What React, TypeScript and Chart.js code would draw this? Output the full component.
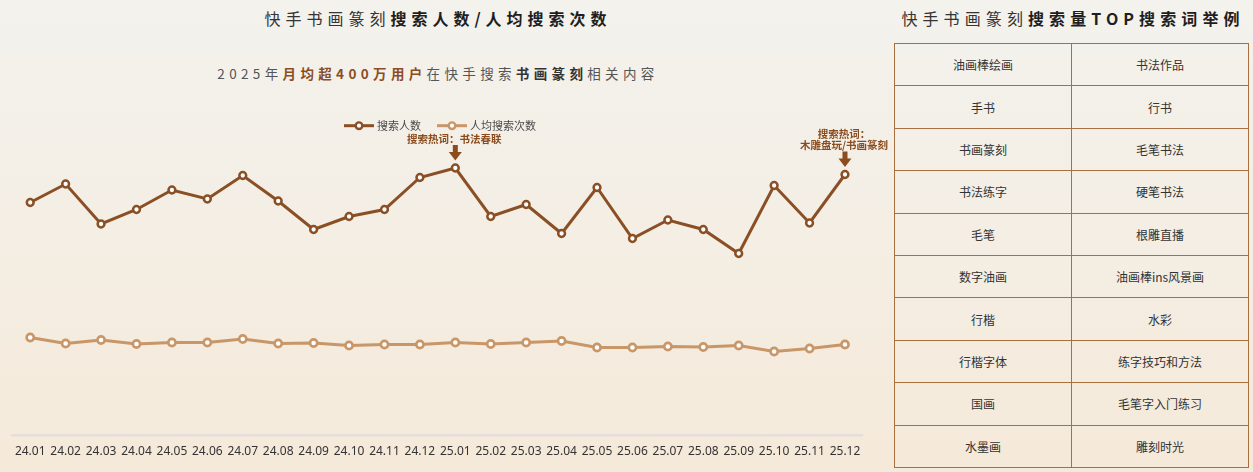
import React, { useEffect, useRef } from "react";
import { Chart, registerables } from "chart.js";

Chart.register(...registerables);

const months = [
  "24.01", "24.02", "24.03", "24.04", "24.05", "24.06", "24.07", "24.08", "24.09", "24.10", "24.11", "24.12",
  "25.01", "25.02", "25.03", "25.04", "25.05", "25.06", "25.07", "25.08", "25.09", "25.10", "25.11", "25.12",
];

// 搜索人数（万）
const searchUsers = [
  466, 503, 423, 452, 491, 473, 520, 469, 412, 438, 452, 516,
  535, 438, 462, 404, 496, 394, 431, 412, 364, 500, 425, 522,
];

// 人均搜索次数
const avgSearches = [
  1.96, 1.84, 1.91, 1.83, 1.86, 1.86, 1.93, 1.84, 1.85, 1.8, 1.82, 1.82,
  1.86, 1.83, 1.86, 1.89, 1.76, 1.76, 1.78, 1.77, 1.8, 1.68, 1.74, 1.82,
];

const seriesNames = ["搜索人数", "人均搜索次数"];
const seriesColors = ["#8a4f25", "#c99668"];

const hotWordNotes = [
  { index: 12, lines: ["搜索热词：书法春联"] },
  { index: 23, lines: ["搜索热词：", "木雕盘玩/书画篆刻"] },
];

const tableTitleNormal = "快手书画篆刻";
const tableTitleBold = "搜索量TOP搜索词举例";

const tableLeft = ["油画棒绘画", "手书", "书画篆刻", "书法练字", "毛笔", "数字油画", "行楷", "行楷字体", "国画", "水墨画"];
const tableRight = ["书法作品", "行书", "毛笔书法", "硬笔书法", "根雕直播", "油画棒ins风景画", "水彩", "练字技巧和方法", "毛笔字入门练习", "雕刻时光"];

const CJK = "'Noto Sans CJK SC', 'Noto Sans', sans-serif";
const ACCENT = "#8b4d1f";
const CANVAS_W = 893;

const legendPlugin = {
  id: "customLegend",
  afterDraw(chart: any) {
    const ctx = chart.ctx;
    const y = 125.7;
    const lineW = 30;
    const gapText = 3;
    const gapItems = 16;
    ctx.save();
    ctx.font = `11px ${CJK}`;
    const widths = seriesNames.map((n) => lineW + gapText + ctx.measureText(n).width);
    const total = widths.reduce((a, b) => a + b, 0) + gapItems * (seriesNames.length - 1);
    let x = 440 - total / 2;
    seriesNames.forEach((name, i) => {
      ctx.strokeStyle = seriesColors[i];
      ctx.lineWidth = 3;
      ctx.beginPath();
      ctx.moveTo(x, y);
      ctx.lineTo(x + lineW, y);
      ctx.stroke();
      ctx.beginPath();
      ctx.arc(x + lineW / 2, y, 3.3, 0, Math.PI * 2);
      ctx.fillStyle = "#fff";
      ctx.fill();
      ctx.lineWidth = 2.4;
      ctx.stroke();
      ctx.fillStyle = "#4a4a4a";
      ctx.textAlign = "left";
      ctx.textBaseline = "middle";
      ctx.fillText(name, x + lineW + gapText, y + 0.5);
      x += widths[i] + gapItems;
    });
    ctx.restore();
  },
};

const notePlugin = {
  id: "hotWordNotes",
  afterDatasetsDraw(chart: any) {
    const ctx = chart.ctx;
    const meta = chart.getDatasetMeta(0);
    ctx.save();
    hotWordNotes.forEach((note) => {
      const pt = meta.data[note.index];
      if (!pt) return;
      const px = pt.x;
      const tip = pt.y - 7.5;
      const headH = 8.5;
      const shaftH = 7;
      const top = tip - headH - shaftH;
      ctx.fillStyle = ACCENT;
      ctx.fillRect(px - 2.5, top, 5, shaftH + 0.5);
      ctx.beginPath();
      ctx.moveTo(px - 6.5, tip - headH);
      ctx.lineTo(px + 6.5, tip - headH);
      ctx.lineTo(px, tip);
      ctx.closePath();
      ctx.fill();
      ctx.font = `bold 10.5px ${CJK}`;
      ctx.textAlign = "center";
      ctx.textBaseline = "middle";
      const n = note.lines.length;
      note.lines.forEach((line, i) => {
        const cy = top - 6 - (n - 1 - i) * 11.5;
        ctx.fillText(line, px - 1, cy);
      });
    });
    ctx.restore();
  },
};

function LineChart() {
  const ref = useRef<HTMLCanvasElement | null>(null);
  useEffect(() => {
    if (!ref.current) return;
    const chart = new Chart(ref.current, {
      type: "line",
      data: {
        labels: months,
        datasets: [
          {
            label: seriesNames[0],
            data: searchUsers,
            yAxisID: "y",
            borderColor: seriesColors[0],
            backgroundColor: seriesColors[0],
            borderWidth: 3,
            pointRadius: 3.4,
            pointBorderWidth: 2.5,
            pointBackgroundColor: "#ffffff",
            pointBorderColor: seriesColors[0],
            tension: 0,
          },
          {
            label: seriesNames[1],
            data: avgSearches,
            yAxisID: "y1",
            borderColor: seriesColors[1],
            backgroundColor: seriesColors[1],
            borderWidth: 3,
            pointRadius: 3.6,
            pointBorderWidth: 2.6,
            pointBackgroundColor: "#ffffff",
            pointBorderColor: seriesColors[1],
            tension: 0,
          },
        ],
      },
      options: {
        animation: false,
        responsive: false,
        maintainAspectRatio: false,
        layout: { padding: { left: 12.5, right: CANVAS_W - 862.7, top: 135.5, bottom: 0 } },
        plugins: {
          legend: { display: false },
          title: { display: false },
          tooltip: { enabled: false },
        },
        scales: {
          x: {
            offset: true,
            grid: { display: false, drawTicks: false },
            border: { display: true, color: "#e4e0d9", width: 2.5 },
            ticks: {
              autoSkip: false,
              maxRotation: 0,
              padding: 9,
              color: "#333333",
              font: { size: 12, family: "'Noto Sans', sans-serif" },
            },
            afterFit: (scale: any) => {
              scale.height = 36.5;
            },
          },
          y: { display: false, min: 0, max: 600 },
          y1: { display: false, min: 0, max: 6 },
        },
      },
      plugins: [legendPlugin, notePlugin],
    });
    return () => chart.destroy();
  }, []);
  return <canvas ref={ref} width={CANVAS_W} height={472} style={{ position: "absolute", left: 0, top: 0 }} />;
}

export default function App() {
  const cellStyle: React.CSSProperties = {
    border: "1.5px solid #a8703f",
    textAlign: "center",
    verticalAlign: "middle",
    fontSize: 12,
    color: "#333",
    fontFamily: CJK,
    padding: 0,
  };
  return (
    <div
      style={{
        position: "absolute",
        left: 0,
        top: 0,
        width: 1253,
        height: 472,
        overflow: "hidden",
        background: "linear-gradient(to bottom, #f3f2ed 0%, #f4eee4 50%, #f5e9d9 100%)",
        fontFamily: CJK,
      }}
    >
      <div
        style={{
          position: "absolute",
          left: 0,
          top: 7,
          width: 876,
          textAlign: "center",
          fontSize: 16,
          lineHeight: "22px",
          letterSpacing: "5px",
          color: "#333",
          whiteSpace: "nowrap",
        }}
      >
        <span>快手书画篆刻</span>
        <span style={{ fontWeight: "bold", color: "#1e1e1e" }}>搜索人数/人均搜索次数</span>
      </div>
      <div
        style={{
          position: "absolute",
          left: 0,
          top: 63,
          width: 876,
          textAlign: "center",
          fontSize: 13.5,
          lineHeight: "20px",
          letterSpacing: "4.35px",
          color: "#555",
          whiteSpace: "nowrap",
        }}
      >
        <span>2025年</span>
        <span style={{ fontWeight: "bold", color: ACCENT }}>月均超400万用户</span>
        <span>在快手搜索</span>
        <span style={{ fontWeight: "bold", color: "#333" }}>书画篆刻</span>
        <span>相关内容</span>
      </div>
      <LineChart />
      <div
        style={{
          position: "absolute",
          left: 894,
          top: 7,
          width: 358,
          textAlign: "center",
          fontSize: 16,
          lineHeight: "22px",
          letterSpacing: "5.1px",
          color: "#333",
          whiteSpace: "nowrap",
        }}
      >
        <span>{tableTitleNormal}</span>
        <span style={{ fontWeight: "bold", color: "#1e1e1e" }}>{tableTitleBold}</span>
      </div>
      <table
        style={{
          position: "absolute",
          left: 894,
          top: 43,
          width: 355,
          height: 425,
          borderCollapse: "collapse",
          tableLayout: "fixed",
        }}
      >
        <tbody>
          {tableLeft.map((l, i) => (
            <tr key={i}>
              <td style={cellStyle}>{l}</td>
              <td style={cellStyle}>{tableRight[i]}</td>
            </tr>
          ))}
        </tbody>
      </table>
    </div>
  );
}
